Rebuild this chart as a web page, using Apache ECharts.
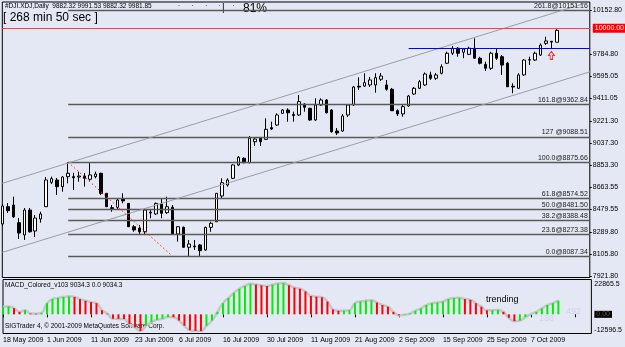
<!DOCTYPE html>
<html><head><meta charset="utf-8">
<script src="https://cdn.jsdelivr.net/npm/echarts@6/dist/echarts.min.js"></script>
<style>html,body{margin:0;padding:0;background:#e4e8f5;}#c{width:625px;height:347px;}</style>
</head><body><div id="c"></div>
<script>
const dateLabels = ['18 May 2009','1 Jun 2009','11 Jun 2009','23 Jun 2009','6 Jul 2009','16 Jul 2009','30 Jul 2009','11 Aug 2009','21 Aug 2009','2 Sep 2009','15 Sep 2009','25 Sep 2009','7 Oct 2009'];
const opens = [8358,8503,8517,8369,8266,8475,8299,8400,8503,8708,
 8727,8671,8755,8755,8752,8760,8733,8755,8783,8615,
 8495,8498,8570,8531,8335,8322,8293,8456,8442,8526,
 8453,8498,8274,8330,8163,8173,8182,8140,8330,8377,
 8593,8685,8741,8853,8909,8872,9048,9077,9068,9166,
 9188,9286,9314,9276,9272,9364,9328,9230,9356,9398,
 9314,9138,9138,9272,9356,9513,9515,9524,9524,9572,
 9524,9488,9308,9281,9348,9448,9496,9524,9608,9580,
 9622,9706,9790,9832,9798,9781,9832,9748,9697,9664,
 9790,9761,9706,9513,9496,9608,9733,9733,9775,9873,
 9890,9882.32];
const closes = [8509,8470,8419,8282,8475,8293,8408,8442,8727,8738,
 8671,8752,8783,8746,8760,8741,8769,8777,8615,8503,
 8486,8559,8551,8335,8308,8293,8475,8450,8531,8448,
 8503,8274,8335,8163,8190,8167,8134,8330,8364,8615,
 8704,8727,8853,8917,8872,9077,9071,9048,9152,9155,
 9272,9314,9291,9268,9384,9337,9230,9356,9398,9291,
 9132,9121,9264,9356,9507,9507,9543,9566,9585,9599,
 9488,9308,9281,9342,9431,9496,9551,9616,9580,9608,
 9677,9790,9832,9790,9826,9832,9748,9706,9664,9790,
 9748,9691,9509,9507,9608,9733,9736,9790,9859,9893,
 9884,9981.85];
const lows = [8341,8450,8408,8232,8224,8285,8249,8369,8500,8693,
 8601,8629,8699,8643,8713,8671,8721,8741,8601,8500,
 8461,8475,8531,8333,8293,8266,8266,8406,8433,8406,
 8442,8270,8210,8157,8090,8140,8087.34,8134,8293,8375,
 8573,8671,8735,8844,8867,8867,9012,9012,9062,9146,
 9182,9281,9216,9216,9264,9300,9224,9224,9348,9285,
 9124,9104,9130,9255,9348,9482,9509,9507,9459,9557,
 9476,9306,9264,9258,9339,9440,9490,9515,9566,9566,
 9613,9700,9775,9761,9748,9775,9742,9697,9641,9650,
 9733,9608,9507,9454,9490,9599,9691,9725,9767,9859,
 9832,9882.32];
const highs = [8526,8534,8587,8408,8492,8492,8433,8461,8752,8755,
 8744,8760,8876,8788,8797,8786,8870,8797,8788,8618,
 8517,8573,8615,8534,8350,8350,8490,8475,8537,8573,
 8587,8517,8341,8337,8224,8224,8190,8335,8377,8618,
 8741,8741,8857,8928,8916,9096,9082,9082,9244,9216,
 9286,9322,9328,9300,9440,9370,9333,9412,9412,9406,
 9320,9163,9281,9364,9515,9588,9622,9591,9622,9624,
 9566,9499,9320,9356,9440,9507,9566,9629,9635,9624,
 9697,9803,9851,9842,9832,9845,9915,9761,9719,9803,
 9832,9775,9717,9538,9622,9742,9761,9803,9873,9929,
 9893,9991.53];
const macd = [5000,5200,4000,1600,2700,500,400,900,7300,10000,
 10700,11400,11800,11400,10000,8900,8000,7300,2700,300,
 -2900,-3000,-3100,-6400,-8600,-10900,-7500,-5200,-3600,-2900,
 -1800,-1900,-4100,-7500,-10500,-10900,-11000,-7500,-4100,1600,
 7300,10700,14100,16800,18600,20000,19600,19000,18600,19500,
 20200,20500,19100,17500,16800,15000,12000,11600,11200,8400,
 3200,2300,2400,2700,7300,8400,8900,9200,7700,6100,
 5000,1600,-700,-300,500,2300,3900,6100,7300,7700,
 8400,10000,10700,10800,10000,9500,7300,5000,2600,2700,
 2800,1600,-2300,-4500,-4100,-1800,200,1600,3900,6100,
 7300,9034.3];
const priceTicks = [10152.80,9784.80,9595.05,9411.05,9221.30,9037.30,8853.30,8663.55,8479.55,8289.80,8105.80,7921.80];
const macdTicks = [22865.5, 0, -12596.5];
const fibPrices = [8087.34,8273.38,8388.48,8481.50,8574.52,8875.66,9088.51,9362.84,10151.16];
const fibLabels = ['0.0@8087.34','23.6@8273.38','38.2@8388.48','50.0@8481.50','61.8@8574.52','100.0@8875.66','127 @9088.51','161.8@9362.84','261.8@10151.16'];
const fibStartBar = 12;
const fibTrend = [[12, 8875.66],[31, 8087.34]];
const channelUpper = [[0, 8699],[106, 10207]];
const channelLower = [[0, 8120],[107, 9634]];
const roundLevel = 10000;
const blueLevel = 9831, blueStartBar = 74;
const arrowPoint = [100, 9772];
const slotCount = 108;

const F = "'Liberation Sans', Arial, sans-serif";
const cats = []; for (let i = 0; i < slotCount; i++) cats.push(String(i));
const lastSlot = slotCount - 1;
const candleData = opens.map((o, i) => [o, closes[i], lows[i], highs[i]]);

const mk = [];
fibPrices.forEach((p, k) => {
  mk.push([{coord:[fibStartBar, p], lineStyle:{color:'#5a5a5a', width:1.3, type:'solid'},
            label:{show:true, position:'insideEndTop', formatter:fibLabels[k], fontSize:7, color:'#202020', fontFamily:F, distance:[2,1]}},
           {coord:[lastSlot, p]}]);
});
mk.push([{coord:channelUpper[0], lineStyle:{color:'#9a9ea6', width:1, type:'solid'}, label:{show:false}}, {coord:channelUpper[1]}]);
mk.push([{coord:channelLower[0], lineStyle:{color:'#9a9ea6', width:1, type:'solid'}, label:{show:false}}, {coord:channelLower[1]}]);
mk.push([{coord:fibTrend[0], lineStyle:{color:'#ff2020', width:1, type:[1.5,2.5]}, label:{show:false}}, {coord:fibTrend[1]}]);
mk.push([{coord:[blueStartBar, blueLevel], lineStyle:{color:'#0000ff', width:1, type:'solid'}, label:{show:false}}, {coord:[lastSlot, blueLevel]}]);
mk.push([{coord:[0, roundLevel], lineStyle:{color:'#ff4040', width:1, type:'solid'},
          label:{show:true, position:'end', formatter: roundLevel.toFixed(2), backgroundColor:'#ff0000', color:'#ffffff', fontSize:7, fontFamily:F, padding:[1,2,1,2], distance:3}},
         {coord:[lastSlot, roundLevel]}]);

const chart = echarts.init(document.getElementById('c'), null, {renderer:'canvas', width:625, height:347});
chart.setOption({
  animation:false,
  backgroundColor:'#e4e8f5',
  grid:[
    {left:2.3, right:28.3, top:2, height:275.5, show:true, borderColor:'#000', borderWidth:1, backgroundColor:'transparent'},
    {left:2.3, right:28.3, top:279.5, height:54, show:true, borderColor:'#000', borderWidth:1, backgroundColor:'transparent'}
  ],
  xAxis:[
    {type:'category', gridIndex:0, data:cats, boundaryGap:false, axisLine:{show:false}, axisTick:{show:false}, axisLabel:{show:false}, splitLine:{show:false}},
    {type:'category', gridIndex:1, data:cats, boundaryGap:false, axisLine:{show:false},
     axisTick:{show:true, interval:7, length:3, lineStyle:{color:'#000'}},
     axisLabel:{show:true, interval:7, align:'left', margin:3, fontSize:7, color:'#000', fontFamily:F,
       formatter:(v, idx) => (idx % 8 === 0 && dateLabels[idx/8]) ? dateLabels[idx/8] : ''},
     splitLine:{show:false}}
  ],
  yAxis:[
    {type:'value', gridIndex:0, position:'right', min:7909.2, max:10219.8, splitLine:{show:false}, axisLine:{show:false},
     axisTick:{show:true, length:2, customValues:priceTicks, lineStyle:{color:'#000'}},
     axisLabel:{customValues:priceTicks, formatter:v => v.toFixed(2), fontSize:7, color:'#000', margin:3, fontFamily:F}},
    {type:'value', gridIndex:1, position:'right', min:-12596.5, max:22865.5, splitLine:{show:false}, axisLine:{show:false},
     axisTick:{show:false},
     axisLabel:{customValues:macdTicks, fontSize:7, color:'#000', margin:3, fontFamily:F,
       formatter:v => v === 0 ? '{z|0.00}' : (v > 0 ? '{t|' + v.toFixed(1) + '}' : '{b|' + v.toFixed(1) + '}'),
       rich:{z:{backgroundColor:'#000', color:'#555', fontSize:7, padding:[0,2,0,2]},
             t:{fontSize:7, fontFamily:F, color:'#000', padding:[10,0,0,0]},
             b:{fontSize:7, fontFamily:F, color:'#000', padding:[0,0,7,0]}}}}
  ],
  graphic:[
    {type:'text', left:5, top:3, style:{text:'#DJI.XDJ,Daily  9882.32 9991.53 9882.32 9981.85', fontSize:6.5, fontFamily:F, fill:'#000'}},
    {type:'text', left:3, top:12, style:{text:'[ 268 min 50 sec ]', fontSize:12, fontFamily:F, fill:'#000'}},
    {type:'text', left:178, top:1, style:{text:'.      .      .      .      .        .', fontSize:7, fontFamily:F, fill:'#000'}},
    {type:'text', left:178, top:6, style:{text:'.............................', fontSize:6, fontFamily:F, fill:'#000'}},
    {type:'text', left:222, top:3, style:{text:'|', fontSize:10, fontFamily:F, fill:'#000'}},
    {type:'text', left:243, top:3, style:{text:'81%', fontSize:12, fontFamily:F, fill:'#000'}},
    {type:'text', left:5, top:282, style:{text:'MACD_Colored_v103 9034.3 0.0 9034.3', fontSize:6.5, fontFamily:F, fill:'#000'}},
    {type:'text', left:5, top:323, style:{text:'SIGTrader 4, \u00a9 2001-2009 MetaQuotes Software Corp.', fontSize:6.5, fontFamily:F, fill:'#000'}},
    {type:'text', left:486, top:295, style:{text:'trending', fontSize:9, fontFamily:F, fill:'#000'}},
    {type:'text', left:539, top:314, style:{text:'138', fontSize:9, fontFamily:F, fill:'#d2d6e0'}},
    {type:'text', left:566, top:307, style:{text:'492', fontSize:9, fontFamily:F, fill:'#d2d6e0'}}
  ],
  series:[
    {type:'line', xAxisIndex:0, yAxisIndex:0, data:[], z:1, silent:true,
     markLine:{silent:true, symbol:['none','none'], animation:false, data:mk}},
    {type:'candlestick', xAxisIndex:0, yAxisIndex:0, data:candleData, barWidth:3, z:3,
     itemStyle:{color:'#ffffff', color0:'#000000', borderColor:'#000000', borderColor0:'#000000', borderWidth:1}},
    {type:'scatter', xAxisIndex:0, yAxisIndex:0, data:[arrowPoint], z:4,
     symbol:'path://M5,0 L10,5 L7,5 L7,10 L3,10 L3,5 L0,5 Z', symbolSize:[6,8],
     itemStyle:{color:'rgba(0,0,0,0)', borderColor:'#ff0000', borderWidth:1}},
    {type:'line', xAxisIndex:1, yAxisIndex:1, data:macd, smooth:true, showSymbol:false, z:1,
     lineStyle:{color:'#c4c6cc', width:2.5}},
    {type:'bar', xAxisIndex:1, yAxisIndex:1, data:macd, barWidth:2, z:2,
     itemStyle:{color:p => (p.dataIndex === 0 || macd[p.dataIndex] >= macd[p.dataIndex-1]) ? '#00ee00' : '#ff0000'}}
  ]
});
</script></body></html>
